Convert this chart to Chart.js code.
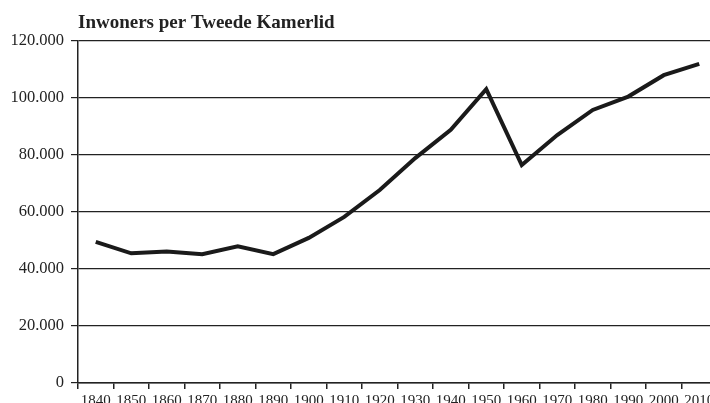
<!DOCTYPE html>
<html lang="nl">
<head>
    <meta charset="UTF-8">
    <title>Inwoners per Tweede Kamerlid</title>
    <script src="https://cdn.jsdelivr.net/npm/chart.js"></script>
    <style>
        html, body { margin: 0; padding: 0; background: #fff; overflow: hidden; }
        #wrap { width: 710px; height: 403px; overflow: hidden; position: relative; }
        canvas { position: absolute; left: 0; top: 0; }
    </style>
</head>
<body>
    <div id="wrap">
        <canvas id="chart" width="720" height="410"></canvas>
    </div>

    <script>
        // data
        const years = ['1840', '1850', '1860', '1870', '1880', '1890', '1900', '1910', '1920',
                       '1930', '1940', '1950', '1960', '1970', '1980', '1990', '2000', '2010'];
        const inwoners = [49500, 45500, 46100, 45200, 48000, 45200, 50900, 58300, 67700,
                          78900, 88800, 103100, 76500, 87000, 95800, 100500, 108000, 112000];
        const yTicks = [0, 20000, 40000, 60000, 80000, 100000, 120000];
        const titleText = 'Inwoners per Tweede Kamerlid';

        const serif = '"Liberation Serif", "DejaVu Serif", serif';
        const ink = '#222';

        // title drawn at the left edge of the plot area
        const titlePlugin = {
            id: 'leftTitle',
            afterDraw(chart) {
                const ctx = chart.ctx;
                ctx.save();
                ctx.font = 'bold 19px ' + serif;
                ctx.fillStyle = ink;
                ctx.textAlign = 'left';
                ctx.textBaseline = 'middle';
                ctx.fillText(titleText, chart.chartArea.left, 23);
                ctx.restore();
            }
        };

        const fmt = v => v.toLocaleString('de-DE');

        new Chart(document.getElementById('chart'), {
            type: 'line',
            data: {
                labels: years,
                datasets: [{
                    data: inwoners,
                    borderColor: '#1a1a1a',
                    borderWidth: 4,
                    pointRadius: 0,
                    tension: 0,
                    fill: false
                }]
            },
            options: {
                responsive: false,
                animation: false,
                layout: { padding: { top: 41, right: 3, left: 0, bottom: 0 } },
                plugins: {
                    legend: { display: false },
                    tooltip: { enabled: false }
                },
                scales: {
                    x: {
                        type: 'category',
                        offset: true,
                        grid: {
                            offset: true,
                            drawOnChartArea: false,
                            drawTicks: true,
                            tickLength: 6,
                            color: ink,
                            lineWidth: 1.5
                        },
                        border: { color: ink, width: 1.5 },
                        ticks: {
                            color: ink,
                            font: { family: serif, size: 15 },
                            padding: 3,
                            maxRotation: 0,
                            autoSkip: false
                        },
                        afterFit(scale) { scale.height = 27; }
                    },
                    y: {
                        min: 0,
                        max: 120000,
                        afterBuildTicks(scale) { scale.ticks = yTicks.map(v => ({ value: v })); },
                        grid: {
                            color: ink,
                            lineWidth: 1.2,
                            tickLength: 7
                        },
                        border: { color: ink, width: 1.5 },
                        ticks: {
                            color: ink,
                            font: { family: serif, size: 16.5 },
                            padding: 7,
                            callback: v => fmt(v)
                        },
                        afterFit(scale) { scale.width = 78; }
                    }
                }
            },
            plugins: [titlePlugin]
        });
    </script>
</body>
</html>
